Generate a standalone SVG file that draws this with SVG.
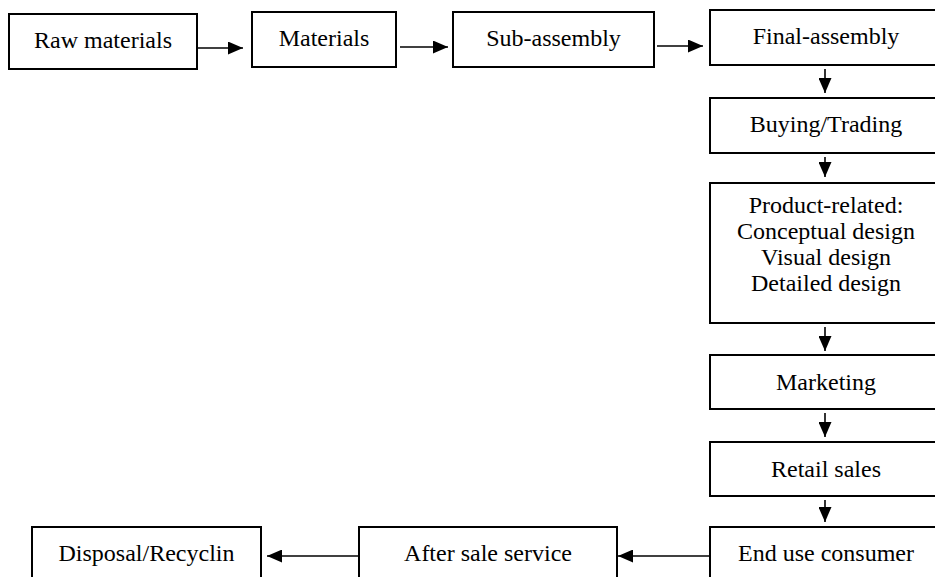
<svg xmlns="http://www.w3.org/2000/svg" width="935" height="577" viewBox="0 0 935 577">
<style>
.box{fill:#fff;stroke:#000;stroke-width:2}
.lbl{font-family:"Liberation Serif","Times New Roman",serif;font-size:24px;fill:#000;text-anchor:middle}
.con{stroke:#000;stroke-width:1.6;fill:none;marker-end:url(#ah)}
</style>
<defs>
<marker id="ah" markerUnits="userSpaceOnUse" markerWidth="15" markerHeight="13" refX="15" refY="6.5" orient="auto">
<path d="M0,0 L15,6.5 L0,13 z" fill="#000"/>
</marker>
</defs>
<rect width="935" height="577" fill="#fff"/>
<g id="n-raw"><rect class="box" x="9" y="14" width="188" height="55"/><text class="lbl" x="103" y="48">Raw materials</text></g>
<g id="n-materials"><rect class="box" x="252" y="12" width="144" height="55"/><text class="lbl" x="324" y="46">Materials</text></g>
<g id="n-sub"><rect class="box" x="453" y="12" width="201" height="55"/><text class="lbl" x="553.5" y="46">Sub-assembly</text></g>
<g id="n-final"><rect class="box" x="710" y="10" width="232" height="55"/><text class="lbl" x="826" y="44">Final-assembly</text></g>
<g id="n-buying"><rect class="box" x="710" y="98" width="232" height="55"/><text class="lbl" x="826" y="132">Buying/Trading</text></g>
<g id="n-product"><rect class="box" x="710" y="183" width="232" height="140"/>
<text class="lbl" x="826" y="213">Product-related:</text>
<text class="lbl" x="826" y="239">Conceptual design</text>
<text class="lbl" x="826" y="265">Visual design</text>
<text class="lbl" x="826" y="291">Detailed design</text></g>
<g id="n-marketing"><rect class="box" x="710" y="355" width="232" height="54"/><text class="lbl" x="826" y="390">Marketing</text></g>
<g id="n-retail"><rect class="box" x="710" y="442" width="232" height="54"/><text class="lbl" x="826" y="477">Retail sales</text></g>
<g id="n-enduse"><rect class="box" x="710" y="527" width="232" height="60"/><text class="lbl" x="826" y="561">End use consumer</text></g>
<g id="n-after"><rect class="box" x="359" y="527" width="258" height="60"/><text class="lbl" x="488" y="561">After sale service</text></g>
<g id="n-disposal"><rect class="box" x="32" y="527" width="229" height="60"/><text class="lbl" x="146.5" y="561">Disposal/Recyclin</text></g>
<g id="connectors">
<line class="con" x1="197" y1="48" x2="243" y2="48"/>
<line class="con" x1="400" y1="47" x2="448" y2="47"/>
<line class="con" x1="657" y1="46" x2="703" y2="46"/>
<line class="con" x1="825" y1="69" x2="825" y2="93"/>
<line class="con" x1="825" y1="157" x2="825" y2="177"/>
<line class="con" x1="825" y1="327" x2="825" y2="351"/>
<line class="con" x1="825" y1="413" x2="825" y2="437"/>
<line class="con" x1="825" y1="500" x2="825" y2="522"/>
<line class="con" x1="710" y1="556" x2="618" y2="556"/>
<line class="con" x1="359" y1="556" x2="267" y2="556"/>
</g>
</svg>
